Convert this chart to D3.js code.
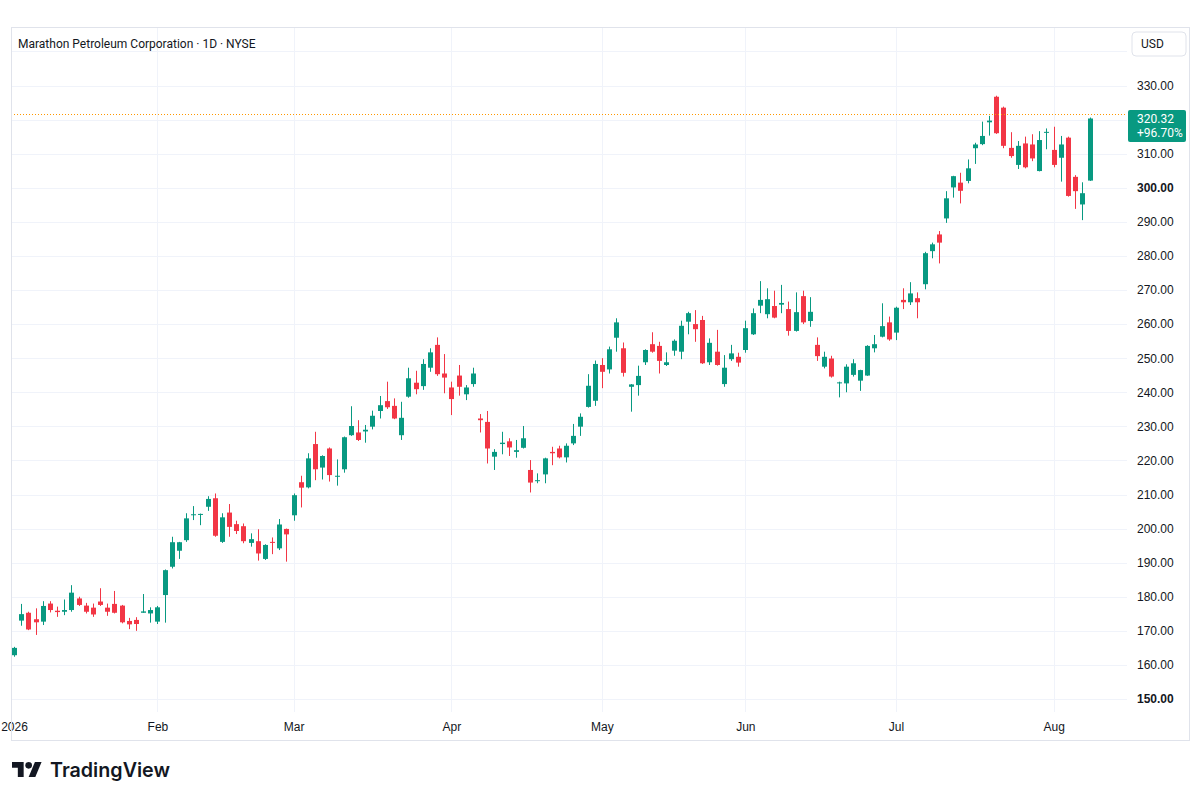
<!DOCTYPE html>
<html>
<head>
<meta charset="utf-8">
<title>Marathon Petroleum Corporation · 1D · NYSE</title>
<script src="https://cdn.jsdelivr.net/npm/d3@7/dist/d3.min.js"></script>
<style>
  html, body { margin: 0; padding: 0; background: #ffffff; }
  svg { display: block; font-family: Roboto, "Noto Sans", sans-serif; }
</style>
</head>
<body>
<svg id="chart" width="1200" height="801"></svg>
<script>
"use strict";

// daily candles, 2 Jan 2026 .. 10 Aug 2026 (trading days only)
const open = [
  162.85, 173.0, 175.3, 173.4, 172.7, 178.0, 175.9, 175.6, 176.1, 179.5,
  177.4, 176.8, 178.6, 176.8, 177.9, 177.4, 172.9, 173.2, 175.3, 175.1,
  172.7, 180.5, 188.8, 193.5, 196.6, 204.0, 204.2, 206.4, 208.9, 196.1,
  204.7, 201.3, 200.7, 195.8, 196.3, 191.1, 196.1, 194.2, 199.9, 203.9,
  213.6, 212.1, 224.8, 217.9, 223.5, 215.2, 217.4, 227.4, 228.2, 228.5,
  229.9, 234.5, 237.4, 236.0, 227.4, 238.7, 242.8, 241.8, 247.2, 253.9,
  245.5, 241.4, 244.9, 239.4, 242.4, 232.3, 231.3, 221.1, 224.8, 225.6,
  222.5, 223.7, 217.2, 213.9, 215.9, 222.5, 223.5, 220.9, 225.0, 229.9,
  235.7, 237.5, 248.0, 246.7, 256.0, 252.9, 241.6, 242.1, 248.8, 254.1,
  253.6, 248.0, 252.2, 251.9, 260.7, 260.0, 261.2, 248.8, 251.9, 242.4,
  249.7, 250.4, 252.4, 257.0, 265.4, 262.9, 265.3, 265.7, 264.4, 258.0,
  268.2, 260.9, 253.9, 247.5, 249.9, 242.6, 242.6, 245.1, 243.4, 244.9,
  252.9, 256.3, 260.5, 257.5, 267.1, 266.4, 267.6, 271.7, 281.4, 286.3,
  291.0, 300.1, 301.5, 302.0, 311.6, 312.8, 319.2, 326.7, 323.5, 311.7,
  306.7, 313.0, 312.7, 304.9, 316.1, 311.1, 308.8, 314.7, 303.2, 295.1,
  302.1
];
const high = [
  165.3, 177.9, 175.6, 176.6, 178.7, 178.7, 177.1, 179.2, 183.4, 180.0,
  178.2, 178.0, 182.5, 178.0, 181.7, 177.6, 173.8, 174.0, 180.8, 176.9,
  177.3, 188.0, 197.6, 196.1, 204.5, 206.6, 204.4, 209.5, 210.3, 204.5,
  207.2, 202.3, 201.5, 198.6, 199.8, 195.4, 197.4, 202.8, 200.0, 210.3,
  215.5, 222.1, 228.4, 221.5, 223.8, 220.3, 227.0, 235.9, 231.8, 230.4,
  234.6, 238.9, 243.1, 238.2, 237.2, 247.2, 246.3, 249.7, 252.9, 256.1,
  251.2, 243.1, 248.0, 242.1, 247.2, 233.6, 234.5, 223.3, 228.4, 226.5,
  226.0, 230.1, 220.1, 216.2, 220.8, 224.0, 224.3, 225.0, 230.7, 233.8,
  245.3, 249.3, 250.0, 253.4, 261.7, 254.6, 242.4, 247.8, 252.6, 257.6,
  254.8, 251.7, 255.5, 261.0, 263.6, 264.1, 262.4, 255.8, 258.3, 250.9,
  253.9, 251.6, 261.0, 264.6, 272.6, 270.5, 269.8, 271.5, 266.6, 269.3,
  269.8, 267.9, 256.1, 251.9, 250.7, 243.1, 248.2, 249.7, 246.6, 253.8,
  256.8, 266.1, 262.2, 265.1, 270.5, 272.3, 269.3, 281.2, 283.9, 287.3,
  299.0, 303.5, 304.4, 308.3, 313.2, 319.4, 321.1, 327.0, 323.8, 316.3,
  313.7, 315.0, 315.7, 316.6, 317.4, 317.9, 315.2, 315.0, 303.7, 301.6,
  320.6
];
const low = [
  162.4, 171.5, 170.2, 168.8, 171.7, 175.4, 174.1, 174.6, 175.6, 177.3,
  175.1, 174.1, 177.3, 174.4, 175.1, 172.2, 170.5, 170.0, 175.3, 172.4,
  172.0, 172.4, 188.3, 191.1, 196.1, 202.5, 201.0, 205.2, 197.6, 195.8,
  197.6, 198.4, 195.7, 194.7, 190.6, 190.8, 192.5, 193.7, 190.3, 202.3,
  206.2, 211.8, 214.2, 214.4, 213.8, 212.6, 216.4, 227.2, 225.7, 225.2,
  229.1, 232.3, 235.1, 232.1, 226.0, 238.4, 239.4, 240.7, 246.0, 244.8,
  239.7, 233.3, 239.0, 237.7, 241.6, 228.2, 219.1, 217.2, 221.8, 221.3,
  220.8, 223.5, 210.6, 213.3, 213.3, 218.6, 220.6, 219.4, 224.5, 227.2,
  235.5, 236.0, 241.2, 245.5, 251.9, 244.6, 234.3, 239.0, 248.0, 251.6,
  245.5, 247.7, 250.7, 249.7, 257.0, 254.8, 248.3, 248.0, 247.8, 241.6,
  249.2, 247.5, 251.6, 256.8, 263.2, 261.7, 261.7, 263.2, 256.6, 257.8,
  260.0, 259.2, 249.2, 247.0, 244.3, 238.5, 240.0, 244.6, 240.4, 244.8,
  251.7, 256.1, 255.1, 255.3, 264.4, 265.6, 261.7, 270.2, 279.3, 277.8,
  289.7, 297.1, 295.4, 301.3, 307.0, 312.5, 315.3, 315.8, 311.6, 308.8,
  305.5, 305.7, 307.8, 304.8, 311.3, 306.0, 301.8, 297.4, 293.8, 290.5,
  302.0
];
const close = [
  165.0, 174.9, 170.4, 172.5, 177.3, 176.1, 175.5, 176.1, 181.2, 177.6,
  175.6, 174.8, 177.6, 175.6, 175.3, 172.5, 171.9, 172.0, 175.7, 176.1,
  176.9, 187.8, 196.0, 196.0, 203.0, 204.2, 204.3, 208.7, 197.9, 203.3,
  200.5, 199.3, 196.3, 196.9, 192.7, 195.2, 195.8, 201.2, 198.3, 209.8,
  212.0, 220.6, 217.4, 221.3, 215.7, 215.5, 226.8, 230.1, 226.0, 229.0,
  233.1, 236.2, 235.6, 232.3, 232.5, 244.1, 240.9, 248.3, 251.7, 245.3,
  244.3, 238.0, 241.6, 241.4, 245.5, 231.8, 223.5, 222.5, 225.2, 223.8,
  223.0, 226.5, 213.5, 214.2, 220.6, 222.1, 220.9, 224.3, 227.2, 232.8,
  241.9, 248.3, 246.0, 252.6, 260.5, 245.7, 242.3, 244.8, 252.4, 251.9,
  249.2, 248.8, 255.1, 259.5, 263.2, 258.5, 248.5, 254.5, 248.0, 247.2,
  251.4, 248.7, 258.8, 263.2, 267.1, 267.3, 261.9, 266.2, 258.0, 263.5,
  260.5, 263.6, 250.6, 250.4, 244.6, 242.9, 247.5, 248.5, 246.5, 253.6,
  254.1, 259.4, 255.5, 264.8, 266.4, 269.0, 266.4, 280.8, 283.4, 283.9,
  296.9, 303.4, 299.1, 305.7, 312.7, 315.2, 319.7, 316.0, 312.3, 309.3,
  312.3, 306.0, 308.6, 314.0, 316.4, 306.7, 312.7, 297.6, 299.0, 298.4,
  320.32
];

// month labels on the time scale, placed at the candle index of the first session
const monthLabels = ["2026", "Feb", "Mar", "Apr", "May", "Jun", "Jul", "Aug"];
const monthIndex = [0, 20, 39, 61, 82, 102, 123, 145];

// price scale
const priceTicks = [150, 160, 170, 180, 190, 200, 210, 220, 230, 240, 250, 260, 270, 280, 290, 300, 310, 320, 330];
const gridTicks = priceTicks.concat([340]);
const boldTicks = [150, 300];
const refLine = 321.7;

const colors = {
    up: "#089981",
    down: "#f23645",
    text: "#131722",
    grid: "#f0f3fa",
    frame: "#e0e3eb",
    ref: "#ff9800"
};

const pane = { left: 11, top: 27, right: 1127, bottom: 712 };
const frame = { left: 11.5, top: 27.5, right: 1189.5, bottom: 740.5 };

const svg = d3.select("#chart");

const x = d3.scaleLinear()
    .domain([0, close.length - 1])
    .range([14, 1089.5]);

const y = d3.scaleLinear()
    .domain([150, 330])
    .range([699, 85.5]);

const candles = close.map(function(c, i) {
    return { i: i, o: open[i], h: high[i], l: low[i], c: c };
});

function drawGrid(chart) {
    chart.append("g")
    .attr("class", "yGrid grid")
    .attr("transform", `translate(${pane.left}, 0)`)
    .call(d3.axisRight(y)
        .tickValues(gridTicks)
        .tickSize(pane.right - pane.left)
        .tickFormat("")
    );
    chart.append("g")
    .attr("class", "xGrid grid")
    .attr("transform", `translate(0, ${pane.top})`)
    .call(d3.axisBottom(x)
        .tickValues(monthIndex.slice(1))
        .tickSize(pane.bottom - pane.top)
        .tickFormat("")
    );
    chart.selectAll("g.grid .domain").remove();
    chart.selectAll("g.grid line")
    .attr("stroke", colors.grid)
    .attr("shape-rendering", "crispEdges");
}

function drawCandles(chart) {
    const bodyWidth = 5;
    chart.append("clipPath")
    .attr("id", "paneClip")
    .append("rect")
    .attr("x", pane.left)
    .attr("y", pane.top)
    .attr("width", pane.right - pane.left)
    .attr("height", pane.bottom - pane.top);

    const g = chart.append("g")
    .attr("clip-path", "url(#paneClip)");

    const candle = g.selectAll("g.candle")
    .data(candles)
    .join("g")
    .attr("class", "candle")
    .attr("fill", d => d.c >= d.o ? colors.up : colors.down)
    .attr("stroke", d => d.c >= d.o ? colors.up : colors.down);

    candle.append("line")
    .attr("x1", d => Math.round(x(d.i)) + 0.5)
    .attr("x2", d => Math.round(x(d.i)) + 0.5)
    .attr("y1", d => y(d.h))
    .attr("y2", d => y(d.l))
    .attr("stroke-width", 1);

    candle.append("rect")
    .attr("x", d => Math.round(x(d.i)) + 0.5 - bodyWidth / 2)
    .attr("y", d => y(Math.max(d.o, d.c)))
    .attr("width", bodyWidth)
    .attr("height", d => Math.max(1, y(Math.min(d.o, d.c)) - y(Math.max(d.o, d.c))))
    .attr("stroke", "none");
}

function drawAxes(chart) {
    // price scale on the right
    const yAxis = chart.append("g")
    .attr("class", "yAxis")
    .attr("transform", "translate(1128, 0)")
    .call(d3.axisRight(y)
        .tickValues(priceTicks)
        .tickSize(0)
        .tickPadding(9)
        .tickFormat(d3.format(".2f"))
    );
    yAxis.select(".domain").remove();
    yAxis.selectAll("text")
    .attr("fill", colors.text)
    .attr("font-size", 12)
    .attr("font-weight", d => boldTicks.includes(d) ? 700 : 400);

    // time scale
    const xAxis = chart.append("g")
    .attr("class", "xAxis")
    .attr("transform", "translate(0, 722)")
    .call(d3.axisBottom(x)
        .tickValues(monthIndex)
        .tickSize(0)
        .tickPadding(0)
        .tickFormat((d, i) => monthLabels[i])
    );
    xAxis.select(".domain").remove();
    xAxis.selectAll("text")
    .attr("fill", colors.text)
    .attr("font-size", 12);
}

function drawLastPrice(chart) {
    const last = close[close.length - 1];
    const change = (last / open[0] - 1) * 100;

    chart.append("line")
    .attr("x1", pane.left)
    .attr("x2", pane.right)
    .attr("y1", Math.round(y(refLine)) + 0.5)
    .attr("y2", Math.round(y(refLine)) + 0.5)
    .attr("stroke", colors.ref)
    .attr("stroke-width", 1)
    .attr("stroke-dasharray", "1, 2");

    const ly = y(last);
    chart.append("rect")
    .attr("x", 1128)
    .attr("y", ly - 8.5)
    .attr("width", 58)
    .attr("height", 32)
    .attr("rx", 2)
    .attr("fill", colors.up);
    chart.append("text")
    .attr("x", 1137)
    .attr("y", ly)
    .attr("dy", "0.35em")
    .attr("fill", "#ffffff")
    .attr("font-size", 12)
    .text(d3.format(".2f")(last));
    chart.append("text")
    .attr("x", 1137)
    .attr("y", ly + 14)
    .attr("dy", "0.35em")
    .attr("fill", "#ffffff")
    .attr("font-size", 12)
    .text(d3.format("+.2f")(change) + "%");
}

function drawFrame(chart) {
    chart.append("rect")
    .attr("x", frame.left)
    .attr("y", frame.top)
    .attr("width", frame.right - frame.left)
    .attr("height", frame.bottom - frame.top)
    .attr("fill", "none")
    .attr("stroke", colors.frame);

    chart.append("text")
    .attr("x", 18)
    .attr("y", 44)
    .attr("dy", "0.35em")
    .attr("fill", colors.text)
    .attr("font-size", 12)
    .text("Marathon Petroleum Corporation · 1D · NYSE");

    chart.append("rect")
    .attr("x", 1132)
    .attr("y", 32)
    .attr("width", 54)
    .attr("height", 24)
    .attr("rx", 4)
    .attr("fill", "#ffffff")
    .attr("stroke", colors.frame);
    chart.append("text")
    .attr("x", 1141)
    .attr("y", 44)
    .attr("dy", "0.35em")
    .attr("fill", colors.text)
    .attr("font-size", 12)
    .text("USD");
}

function drawLogo(chart) {
    const logo = chart.append("g")
    .attr("transform", "translate(12, 758.7) scale(0.833)")
    .attr("fill", colors.text);
    logo.append("path").attr("d", "M14 22H7V11H0V4h14v18z");
    logo.append("path").attr("d", "M28 22h-8l7.5-18h8L28 22z");
    logo.append("circle").attr("cx", 20).attr("cy", 8).attr("r", 4);

    chart.append("text")
    .attr("x", 50)
    .attr("y", 777)
    .attr("fill", colors.text)
    .attr("font-family", "Inter, Roboto, sans-serif")
    .attr("font-size", 20)
    .attr("font-weight", 600)
    .attr("textLength", 120)
    .attr("lengthAdjust", "spacingAndGlyphs")
    .text("TradingView");
}

drawGrid(svg);
drawCandles(svg);
drawAxes(svg);
drawLastPrice(svg);
drawFrame(svg);
drawLogo(svg);
</script>
</body>
</html>
